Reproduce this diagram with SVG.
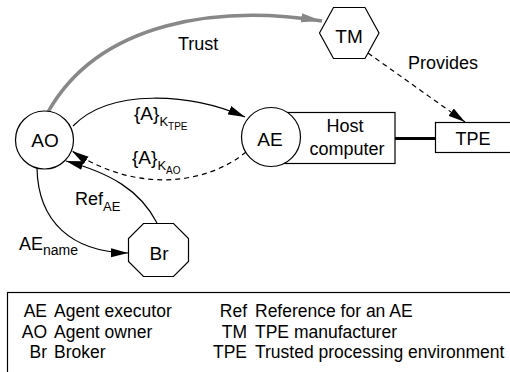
<svg xmlns="http://www.w3.org/2000/svg" width="510" height="372" viewBox="0 0 510 372">
<defs>
<style>
text{font-family:"Liberation Sans",Arial,sans-serif;font-size:18px;fill:#000}
.node{font-size:19px}
.lg{font-size:17.5px}
.sub{font-size:13px}
.sub2{font-size:10px}
.shape{fill:#fff;stroke:#000;stroke-width:1.2}
.edge{fill:none;stroke:#000;stroke-width:1.2}
.dash{stroke-dasharray:5 4}
.mid{text-anchor:middle}
.end{text-anchor:end}
</style>
<marker id="ah" markerUnits="userSpaceOnUse" markerWidth="18" markerHeight="10" refX="17" refY="5" orient="auto">
<path d="M0,0.5 L17,5 L0,9.5 z" fill="#000"/>
</marker>
<marker id="ahg" markerUnits="userSpaceOnUse" markerWidth="22" markerHeight="10" refX="21" refY="5" orient="auto">
<path d="M0,0.5 L21,5 L0,9.5 z" fill="#888"/>
</marker>
</defs>
<rect width="510" height="372" fill="#fff"/>

<g id="connectors">
<path id="trust" d="M48,112 C100,20 220,5 322,21" fill="none" stroke="#888" stroke-width="3.5" marker-end="url(#ahg)"/>
<path id="provides" class="edge dash" d="M368,53 L465,122" marker-end="url(#ah)"/>
<path id="ktpe" class="edge" d="M73,126 C110,88 190,93 245,117" marker-end="url(#ah)"/>
<path id="kao" class="edge dash" d="M246,152 C210,182 140,196 72,151" marker-end="url(#ah)"/>
<path id="ref" class="edge" d="M157,223 C140,190 110,173 66,161" marker-end="url(#ah)"/>
<path id="aename" class="edge" d="M37,168 C38,222 72,252 128,253" marker-end="url(#ah)"/>
<line id="link" x1="395" y1="138.5" x2="436" y2="138.5" stroke="#000" stroke-width="3.2"/>
</g>

<g id="labels">
<text x="178" y="50">Trust</text>
<text x="408" y="69">Provides</text>
<text class="node" x="134" y="120">{A}<tspan class="sub" dy="6">K</tspan><tspan class="sub2" dy="4">TPE</tspan></text>
<text class="node" x="132" y="164">{A}<tspan class="sub" dy="6">K</tspan><tspan class="sub2" dy="4">AO</tspan></text>
<text x="75" y="205">Ref<tspan class="sub" dy="6">AE</tspan></text>
<text x="19" y="250">AE<tspan style="font-size:14px" dy="5">name</tspan></text>
</g>

<g id="host">
<rect class="shape" x="285" y="112.5" width="110" height="51"/>
<text class="mid" x="345" y="132">Host</text>
<text class="mid" x="347" y="155">computer</text>
</g>

<g id="AE">
<circle class="shape" cx="271" cy="137" r="29.5"/>
<text class="mid node" x="270" y="146">AE</text>
</g>

<g id="AO">
<circle class="shape" cx="44.5" cy="140" r="29"/>
<text class="mid node" x="45" y="147">AO</text>
</g>

<g id="TPE">
<rect class="shape" x="435.5" y="122.5" width="80" height="30"/>
<text class="mid" x="473" y="145">TPE</text>
</g>

<g id="TM">
<polygon class="shape" points="319.5,33 333.5,7.5 365,7.5 379,33 365,58.5 333.5,58.5"/>
<text class="mid node" x="349" y="43">TM</text>
</g>

<g id="Br">
<polygon class="shape" points="143.5,223.5 173.5,223.5 188.5,238.5 188.5,261.5 173.5,276.5 143.5,276.5 128.5,261.5 128.5,238.5"/>
<text class="mid node" x="159" y="260">Br</text>
</g>

<g id="legend">
<rect x="7.5" y="292.5" width="520" height="100" fill="none" stroke="#000" stroke-width="1.2"/>
<text class="end lg" x="47" y="317">AE</text>
<text class="lg" x="54" y="317">Agent executor</text>
<text class="end lg" x="47" y="337.5">AO</text>
<text class="lg" x="54" y="337.5">Agent owner</text>
<text class="end lg" x="47" y="358">Br</text>
<text class="lg" x="54" y="358">Broker</text>
<text class="end lg" x="247" y="317">Ref</text>
<text class="lg" x="255" y="317">Reference for an AE</text>
<text class="end lg" x="247" y="337.5">TM</text>
<text class="lg" x="255" y="337.5">TPE manufacturer</text>
<text class="end lg" x="247" y="358">TPE</text>
<text class="lg" x="255" y="358">Trusted processing environment</text>
</g>
</svg>
